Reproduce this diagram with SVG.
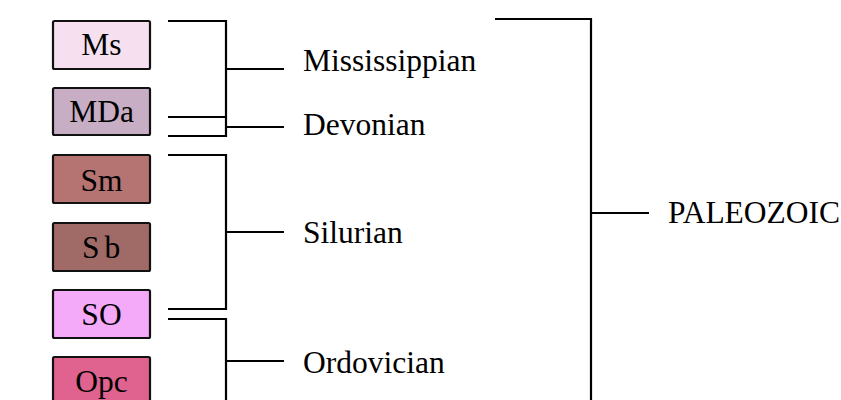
<svg xmlns="http://www.w3.org/2000/svg" width="841" height="400" viewBox="0 0 841 400">
<style>
.box{stroke:#111;stroke-width:2.2}
.lbl{font-family:"Liberation Serif","Times New Roman",serif;font-size:31.5px;fill:#000}
.bl{text-anchor:middle}
.ln{fill:none;stroke:#000;stroke-width:2.2}
</style>
<rect width="841" height="400" fill="#fff"/>
<g id="Ms"><rect class="box" x="53" y="21" width="97" height="48" rx="1.5" fill="#f6e0f0"/><text class="lbl bl" x="101.5" y="55">Ms</text></g>
<g id="MDa"><rect class="box" x="53" y="88" width="97" height="47" rx="1.5" fill="#c8aec4"/><text class="lbl bl" x="101.5" y="122">MDa</text></g>
<g id="Sm"><rect class="box" x="53" y="155" width="97" height="48" rx="1.5" fill="#b57372"/><text class="lbl bl" x="101.5" y="191">Sm</text></g>
<g id="Sb"><rect class="box" x="53" y="223" width="97" height="48" rx="1.5" fill="#a06a66"/><text class="lbl" x="82" y="258" letter-spacing="5">Sb</text></g>
<g id="SO"><rect class="box" x="53" y="290" width="97" height="48" rx="1.5" fill="#f5a9f9"/><text class="lbl bl" x="101.5" y="325">SO</text></g>
<g id="Opc"><rect class="box" x="53" y="357" width="97" height="48" rx="1.5" fill="#e0628e"/><text class="lbl bl" x="101.5" y="392">Opc</text></g>
<g id="Mississippian"><text class="lbl" x="303" y="71">Mississippian</text></g>
<g id="Devonian"><text class="lbl" x="303" y="135">Devonian</text></g>
<g id="Silurian"><text class="lbl" x="303" y="243">Silurian</text></g>
<g id="Ordovician"><text class="lbl" x="303" y="373">Ordovician</text></g>
<g id="PALEOZOIC"><text class="lbl" x="668" y="223">PALEOZOIC</text></g>
<g id="connectors">
<path class="ln" d="M168,21 H226 V136 H168 M168,117 H226 M226,69 H284 M226,127 H284"/>
<path class="ln" d="M168,155 H226 V309 H168 M226,232 H284"/>
<path class="ln" d="M168,319 H226 V402 M226,361 H284"/>
<path class="ln" d="M495,19 H591 V402 M591,213 H649"/>
</g>
</svg>
